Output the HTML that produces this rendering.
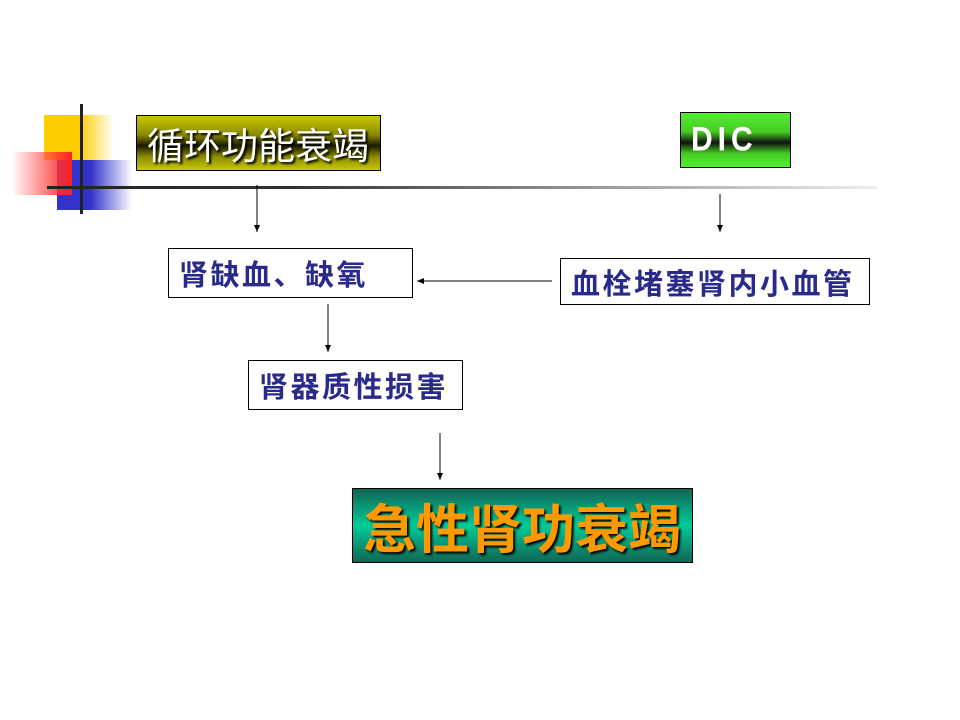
<!DOCTYPE html>
<html><head><meta charset="utf-8"><style>
body{margin:0;width:960px;height:720px;background:#fff;position:relative;overflow:hidden;font-family:"Liberation Sans","Noto Sans CJK SC",sans-serif}
.a{position:absolute}
.box{position:absolute;box-sizing:border-box;border:1px solid #000;display:flex;align-items:center;white-space:nowrap}
.w{background:#fff;color:#2a2a8a;font-weight:bold;font-size:29px;padding-left:10px;letter-spacing:2.5px}
</style></head><body>
<div class="a" style="left:44px;top:115px;width:70px;height:45px;background:linear-gradient(90deg,#ffcc00 0,#ffcc00 50%,rgba(255,220,100,0) 100%)"></div>
<div class="a" style="left:57px;top:160px;width:75px;height:50px;background:linear-gradient(90deg,#3333cc 0,#3333cc 45%,rgba(80,80,220,0) 100%)"></div>
<div class="a" style="left:13px;top:152px;width:59px;height:43px;background:linear-gradient(90deg,rgba(255,230,230,0.3),#ff2020)"></div>
<div class="a" style="left:80px;top:104px;width:3px;height:110px;background:#222"></div>
<div class="a" style="left:47px;top:186px;width:830px;height:3px;background:linear-gradient(90deg,#222 0,#333 30%,#888 60%,#eee 100%)"></div>

<div class="box" style="left:136px;top:115px;width:245px;height:56px;background:linear-gradient(180deg,#c8c800 0,#8a8a00 35%,#1a1a00 55%,#8a8a00 75%,#c8c800 100%);color:#fff;font-size:37px;letter-spacing:0px;padding-left:10px;text-shadow:2px 2px 2px #000">循环功能衰竭</div>
<div class="box" style="left:680px;top:112px;width:111px;height:56px;background:linear-gradient(180deg,#55ee33 0,#44cc22 35%,#111 55%,#44cc22 75%,#55ee33 100%);color:#fff;"><span style="display:inline-block;font-size:30px;font-weight:bold;margin-left:10px;letter-spacing:5px;transform:scaleY(1.15)">DIC</span></div>

<div class="box w" style="left:168px;top:248px;width:245px;height:50px">肾缺血、缺氧</div>
<div class="box w" style="left:560px;top:258px;width:310px;height:47px">血栓堵塞肾内小血管</div>
<div class="box w" style="left:248px;top:360px;width:215px;height:50px">肾器质性损害</div>
<div class="box" style="left:352px;top:488px;width:341px;height:75px;background:linear-gradient(180deg,#116655 0,#00cc99 50%,#116655 100%);color:#ff9900;font-weight:bold;font-size:53px;padding-left:10px;text-shadow:2px 2px 2px #000;letter-spacing:0px">急性肾功衰竭</div>

<svg class="a" style="left:0;top:0" width="960" height="720">
<defs><marker id="m" markerWidth="8" markerHeight="8" refX="7" refY="4" orient="auto"><path d="M0,1 L7,4 L0,7 Z" fill="#000"/></marker></defs>
<g stroke="#000" stroke-width="1" marker-end="url(#m)">
<line x1="257" y1="185" x2="257" y2="232"/>
<line x1="720" y1="194" x2="720" y2="232"/>
<line x1="552" y1="281" x2="417" y2="281"/>
<line x1="328" y1="304" x2="328" y2="352"/>
<line x1="440" y1="433" x2="440" y2="480"/>
</g></svg>
</body></html>
